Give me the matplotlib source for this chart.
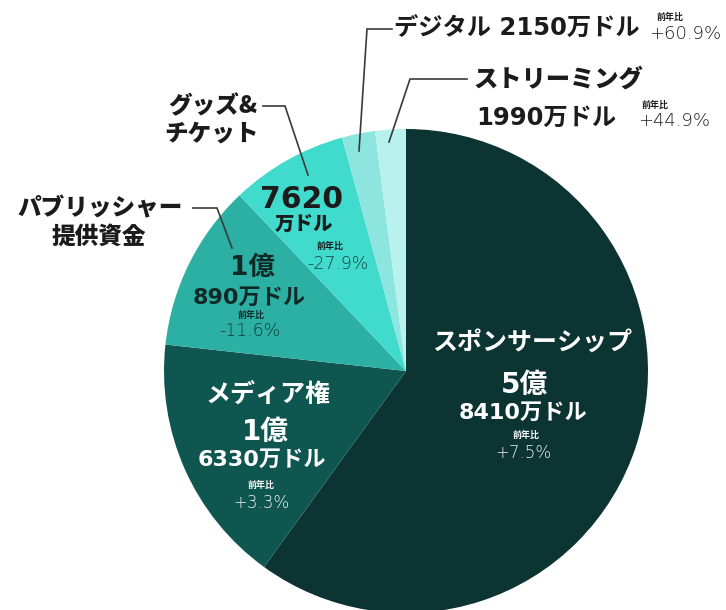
import matplotlib
matplotlib.use("Agg")
import matplotlib.pyplot as plt

plt.rcParams['font.family'] = ['Noto Sans CJK JP', 'DejaVu Sans']

# revenue by source, in 万ドル
categories = ['スポンサーシップ', 'メディア権', 'パブリッシャー提供資金',
              'グッズ&チケット', 'デジタル', 'ストリーミング']
values = [58410, 16330, 10890, 7620, 2150, 1990]
yoy = ['+7.5%', '+3.3%', '-11.6%', '-27.9%', '+60.9%', '+44.9%']
colors = ['#0b3433', '#0f5651', '#2cb0a4', '#41dbce', '#8ce6df', '#b8f1ed']

W, H = 726, 610
NUM = ['DejaVu Sans', 'Noto Sans CJK JP']   # wide digits, CJK fallback


def oku(v):
    return f"{v // 10000}億"


def man(v):
    return f"{v % 10000}万ドル"


fig = plt.figure(figsize=(W / 100, H / 100), dpi=100)
ax = fig.add_axes([0, 0, 1, 1])

ax.pie(values, colors=colors, startangle=90, counterclock=False,
       center=(406, H - 371), radius=242, frame=True,
       wedgeprops=dict(linewidth=0))
ax.set_xlim(0, W)
ax.set_ylim(0, H)
ax.set_aspect('equal')
ax.axis('off')


def txt(x, y, s, size, color='#1b1b1b', weight='bold', ha='center', family=None):
    kw = {}
    if family:
        kw['family'] = family
    ax.text(x, H - y, s, fontsize=size, color=color, fontweight=weight,
            ha=ha, va='center', **kw)


def pct(x, y, s, size, color):
    txt(x, y, s, size, color=color, weight='light', family=['DejaVu Sans'])


def leader(pts):
    ax.plot([p[0] for p in pts], [H - p[1] for p in pts],
            color='#3a3a3a', lw=1.2, solid_joinstyle='miter')


# sponsorship (white text in the big slice)
txt(532, 343, categories[0], 18, color='white')
txt(524, 385, oku(values[0]), 20, color='white', family=NUM)
txt(523, 413, man(values[0]), 16, color='white', family=NUM)
txt(526, 435, '前年比', 6.5, color='white')
pct(523, 453, yoy[0], 12, '#f2f2f2')

# media rights
txt(268, 395, categories[1], 18, color='white')
txt(265, 432, oku(values[1]), 20, color='white', family=NUM)
txt(262, 460, man(values[1]), 16, color='white', family=NUM)
txt(261, 485, '前年比', 6.5, color='white')
pct(261, 503, yoy[1], 12, '#f2f2f2')

# publisher funding
txt(100, 208, 'パブリッシャー', 17, weight='black')
txt(99, 237, '提供資金', 17, weight='black')
leader([(193, 208), (217, 208), (232, 248)])
txt(252, 268, oku(values[2]), 19, color='#102826', family=NUM)
txt(249, 298, man(values[2]), 16, color='#102826', family=NUM)
txt(251, 315, '前年比', 6.5, color='#102826')
pct(250, 331, yoy[2], 12.5, '#123b37')

# goods & tickets
txt(257, 106, 'グッズ&', 17, weight='black', ha='right')
txt(212, 133, 'チケット', 17, weight='black')
leader([(263, 106), (285, 106), (308, 175)])
txt(301, 200, str(values[3]), 21.5, family=NUM)
txt(304, 224, '万ドル', 14, weight='black')
txt(330, 246, '前年比', 6.5)
pct(338, 264, yoy[3], 12.5, '#163f3b')

# digital
leader([(392, 29), (367, 29), (359, 151)])
txt(394, 29, categories[4] + ' ' + str(values[4]) + '万ドル', 17.5,
    ha='left', family=NUM)
txt(670, 17, '前年比', 6.5)
pct(685, 34, yoy[4], 13, '#1e1e1e')

# streaming
leader([(467, 79), (410, 79), (389, 142)])
txt(558, 79, categories[5], 17.5, weight='black')
txt(546, 118, str(values[5]) + '万ドル', 17.5, family=NUM)
txt(655, 105, '前年比', 6.5)
pct(674, 121, yoy[5], 13, '#1e1e1e')

fig.savefig('out.png', dpi=100, facecolor='white')
